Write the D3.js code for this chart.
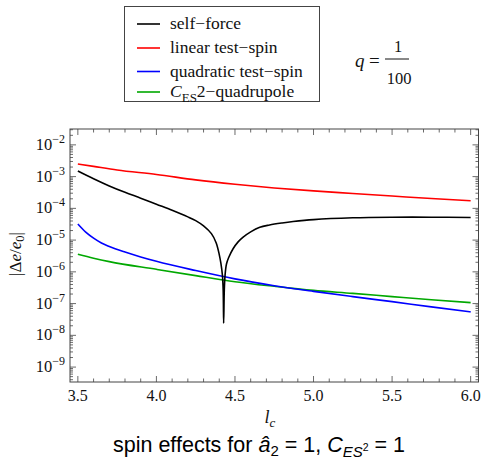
<!DOCTYPE html>
<html><head><meta charset="utf-8">
<script src="https://cdn.jsdelivr.net/npm/d3@7"></script>
<style>body{margin:0;background:#fff}svg{display:block}
.sf{font-family:"Liberation Serif","Times New Roman","DejaVu Serif",serif}
.ss{font-family:"Liberation Sans",Arial,Helvetica,sans-serif}
</style>
</head><body>
<script>
// ---- data ----
const selfForceLc = [3.5,3.6,3.7,3.8,3.9,4.0,4.1,4.2,4.25,4.3,4.35,4.38,4.40,4.41,4.42,4.425,4.428,4.432,4.437,4.446,4.46,4.488,4.52,4.55,4.6,4.658,4.72,4.8,4.87,5.0,5.25,5.5,5.75,6.0];
const selfForce   = [1.51e-3,8.6e-4,5.1e-4,3.2e-4,2.1e-4,1.35e-4,8.7e-5,5.4e-5,4.1e-5,2.8e-5,1.6e-5,8.3e-6,3.5e-6,1.9e-6,7.9e-7,2.6e-7,2.4e-8,2.6e-7,7.9e-7,1.77e-6,2.82e-6,5.35e-6,8.8e-6,1.22e-5,1.82e-5,2.54e-5,2.99e-5,3.46e-5,3.84e-5,4.43e-5,5.05e-5,5.27e-5,5.27e-5,5.13e-5];
const linearLc    = [3.5,3.6,3.75,4.0,4.25,4.5,4.75,5.0,5.25,5.5,5.75,6.0];
const linearSpin  = [2.5e-3,2.1e-3,1.62e-3,1.17e-3,7.9e-4,5.75e-4,4.4e-4,3.55e-4,2.95e-4,2.45e-4,2.04e-4,1.74e-4];
const quadLc      = [3.5,3.55,3.6,3.65,3.7,3.8,3.9,4.0,4.25,4.5,4.75,5.0,5.25,5.5,5.75,6.0];
const quadSpin    = [3.2e-5,1.78e-5,1.15e-5,8.1e-6,6.3e-6,4.2e-6,2.95e-6,2.15e-6,1.1e-6,6.0e-7,3.67e-7,2.43e-7,1.66e-7,1.15e-7,7.9e-8,5.5e-8];
const cesLc       = [3.5,3.6,3.7,4.0,4.25,4.5,4.75,5.0,5.25,5.5,5.75,6.0];
const cesQuad     = [3.6e-6,2.7e-6,2.1e-6,1.2e-6,7.6e-7,4.9e-7,3.5e-7,2.6e-7,2.1e-7,1.66e-7,1.32e-7,1.07e-7];
const xTickValues = [3.5,4.0,4.5,5.0,5.5,6.0];
const xTickLabels = ["3.5","4.0","4.5","5.0","5.5","6.0"];
const yTickExps   = [-2,-3,-4,-5,-6,-7,-8,-9];
const legendLabels = ["self\u2212force","linear test\u2212spin","quadratic test\u2212spin","CES2\u2212quadrupole"];

const W=481,H=460;
const L=70,R=478.5,T=129,B=382;
const svg=d3.select("body").append("svg").attr("width",W).attr("height",H);
const x=d3.scaleLinear().domain([3.45,6.05]).range([L,R]);
const y=d3.scaleLog().domain([Math.pow(10,-9.47),Math.pow(10,-1.5)]).range([B,T]);
const frameCol="#444";

svg.append("clipPath").attr("id","clip").append("rect").attr("x",L).attr("y",T).attr("width",R-L).attr("height",B-T);

const series=[
  {xs:selfForceLc,ys:selfForce,c:"#000000",curve:d3.curveCatmullRom.alpha(0.5)},
  {xs:linearLc,ys:linearSpin,c:"#ff0000",curve:d3.curveMonotoneX},
  {xs:quadLc,ys:quadSpin,c:"#0000ff",curve:d3.curveMonotoneX},
  {xs:cesLc,ys:cesQuad,c:"#00a800",curve:d3.curveMonotoneX}
];
const g=svg.append("g").attr("clip-path","url(#clip)");
[3,2,1,0].forEach(i=>{
  const s=series[i];
  const line=d3.line().x(d=>x(d[0])).y(d=>y(d[1])).curve(s.curve);
  g.append("path").attr("d",line(s.xs.map((v,k)=>[v,s.ys[k]])))
   .attr("fill","none").attr("stroke",s.c).attr("stroke-width",1.6);
});

svg.append("rect").attr("x",L).attr("y",T).attr("width",R-L).attr("height",B-T)
  .attr("fill","none").attr("stroke",frameCol).attr("stroke-width",1);

const xMinor=d3.range(35,61).map(v=>v/10).filter(v=>!xTickValues.some(t=>Math.abs(t-v)<1e-9));
const ax=svg.append("g").attr("stroke",frameCol).attr("stroke-width",0.8);
xTickValues.forEach(v=>{
  ax.append("line").attr("x1",x(v)).attr("x2",x(v)).attr("y1",B).attr("y2",B-6);
  ax.append("line").attr("x1",x(v)).attr("x2",x(v)).attr("y1",T).attr("y2",T+6);
});
xMinor.forEach(v=>{
  ax.append("line").attr("x1",x(v)).attr("x2",x(v)).attr("y1",B).attr("y2",B-3.5);
  ax.append("line").attr("x1",x(v)).attr("x2",x(v)).attr("y1",T).attr("y2",T+3.5);
});
svg.append("g").selectAll("text").data(xTickValues).join("text").attr("class","sf")
  .attr("x",d=>x(d)).attr("y",401).attr("text-anchor","middle")
  .attr("font-size",16).attr("fill","#111")
  .text((d,i)=>xTickLabels[i]);

const [d0,d1]=y.domain();
for(let e=-10;e<=-1;e++){
  for(let m=1;m<=9;m++){
    const v=m*Math.pow(10,e);
    if(v<d0||v>d1) continue;
    const len=m===1?6:3;
    ax.append("line").attr("x1",L).attr("x2",L+len).attr("y1",y(v)).attr("y2",y(v));
    ax.append("line").attr("x1",R).attr("x2",R-len).attr("y1",y(v)).attr("y2",y(v));
  }
}
yTickExps.forEach(e=>{
  const t=svg.append("text").attr("class","sf").attr("x",65).attr("y",y(Math.pow(10,e))+5)
    .attr("text-anchor","end").attr("font-size",16.5).attr("fill","#111");
  t.append("tspan").text("10");
  t.append("tspan").attr("dy",-7).attr("font-size",12).text("\u2212"+(-e));
});

const yl=svg.append("text").attr("class","sf").attr("transform","translate(21,254) rotate(-90)")
  .attr("text-anchor","middle").attr("font-size",17).attr("fill","#111");
yl.append("tspan").text("|\u0394");
yl.append("tspan").attr("font-style","italic").text("e");
yl.append("tspan").text("/");
yl.append("tspan").attr("font-style","italic").text("e");
yl.append("tspan").attr("dy",3).attr("font-size",12.5).text("0");
yl.append("tspan").attr("dy",-3).text("|");

const xl=svg.append("text").attr("class","sf").attr("x",270).attr("y",423).attr("text-anchor","middle")
  .attr("font-size",18).attr("fill","#111");
xl.append("tspan").attr("font-style","italic").text("l");
xl.append("tspan").attr("dy",4).attr("font-size",13).attr("font-style","italic").text("c");

const tt=svg.append("text").attr("class","ss").attr("x",259).attr("y",452).attr("text-anchor","middle")
  .attr("font-size",21.5).attr("fill","#000");
tt.append("tspan").text("spin effects for ");
tt.append("tspan").attr("font-style","italic").text("\u00e2");
tt.append("tspan").attr("dy",4).attr("font-size",15).text("2");
tt.append("tspan").attr("dy",-4).text(" = 1, ");
tt.append("tspan").attr("font-style","italic").text("C");
tt.append("tspan").attr("dy",5).attr("font-size",15).attr("font-style","italic").text("ES");
tt.append("tspan").attr("dy",-6).attr("font-size",10.5).text("2");
tt.append("tspan").attr("dy",1).text(" = 1");

svg.append("rect").attr("x",124.5).attr("y",6.5).attr("width",195).attr("height",95)
  .attr("fill","#fff").attr("stroke",frameCol).attr("stroke-width",1);
const ly=[24,48,71.5,92];
series.forEach((s,i)=>{
  svg.append("line").attr("x1",137).attr("x2",160).attr("y1",ly[i]).attr("y2",ly[i])
    .attr("stroke",s.c).attr("stroke-width",1.6);
  const t=svg.append("text").attr("class","sf").attr("x",170).attr("y",ly[i]+5)
    .attr("font-size",17.5).attr("fill","#111");
  if(i<3){ t.text(legendLabels[i]); }
  else{
    t.append("tspan").attr("font-style","italic").text("C");
    t.append("tspan").attr("dy",5).attr("font-size",13).text("ES");
    t.append("tspan").attr("dy",-5).text("2\u2212quadrupole");
  }
});

const qg=svg.append("g").attr("class","sf").attr("fill","#111");
qg.append("text").attr("x",355).attr("y",67).attr("font-size",19).attr("font-style","italic").text("q");
qg.append("text").attr("x",369).attr("y",67).attr("font-size",19).text("=");
qg.append("text").attr("x",398).attr("y",52).attr("text-anchor","middle").attr("font-size",16.5).text("1");
qg.append("line").attr("x1",385).attr("x2",409).attr("y1",59).attr("y2",59).attr("stroke","#111").attr("stroke-width",1);
qg.append("text").attr("x",399).attr("y",84).attr("text-anchor","middle").attr("font-size",16.5).text("100");
</script>
</body></html>
